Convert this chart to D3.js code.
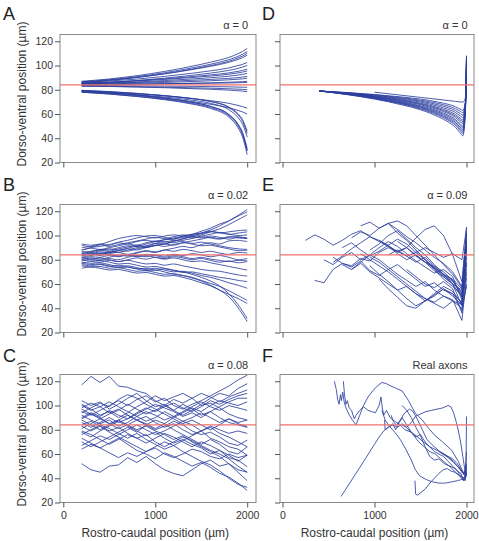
<!DOCTYPE html>
<html><head><meta charset="utf-8">
<script src="https://cdn.jsdelivr.net/npm/d3@7/dist/d3.min.js"></script>
<style>body{margin:0;background:#fff}</style>
</head><body>
<script>
// ---------- data ----------
const xTicks = [0, 1000, 2000];
const yTicks = [20, 40, 60, 80, 100, 120];
const midline = 84;

// Panel A (alpha = 0)
const gridA = [200, 500, 800, 1100, 1400, 1600, 1800, 1900, 1950, 2000];
const seriesA = [
  [87, 88.9, 91.6, 95.1, 99.4, 102.7, 106.7, 109.7, 111.6, 114],
  [86.5, 88.3, 90.8, 94, 98, 101, 104.8, 107.5, 109.3, 111.5],
  [86, 87.7, 90.1, 93.2, 97, 99.9, 103.5, 106.2, 107.8, 110],
  [86.5, 88, 90.2, 93.1, 96.6, 99.3, 102.6, 105, 106.5, 108.5],
  [86, 87.2, 88.8, 91, 93.6, 95.6, 98, 99.9, 101, 102.5],
  [85, 86, 87.6, 89.5, 91.9, 93.7, 96, 97.6, 98.7, 100],
  [85.5, 86.3, 87.5, 89, 90.8, 92.2, 93.9, 95.2, 96, 97],
  [85.5, 86.2, 87.2, 88.5, 90.1, 91.3, 92.8, 93.9, 94.6, 95.5],
  [85, 85.6, 86.4, 87.6, 88.9, 89.9, 91.2, 92.1, 92.7, 93.5],
  [85, 85.4, 86, 86.8, 87.8, 88.5, 89.4, 90, 90.5, 91],
  [84.5, 84.9, 85.4, 86, 86.8, 87.4, 88.2, 88.7, 89, 89.5],
  [84, 84.2, 84.5, 84.9, 85.4, 85.7, 86.2, 86.5, 86.7, 87],
  [84.5, 84.6, 84.8, 85, 85.2, 85.4, 85.6, 85.8, 85.9, 86],
  [83.5, 83.4, 83.2, 83, 82.8, 82.6, 82.4, 82.2, 82.1, 82],
  [83, 82.8, 82.5, 82.1, 81.6, 81.3, 80.8, 80.5, 80.3, 80],
  [83, 82.7, 82.2, 81.7, 80.9, 80.4, 79.7, 79.2, 78.9, 78.5],
  [79.5, 78.5, 77, 75.1, 72.7, 71, 68.8, 67.1, 66.1, 64.8],
  [79, 77.7, 75.8, 73.3, 70.3, 68, 65.1, 63, 61.7, 60],
  [79, 78, 76.7, 75, 72.7, 70.4, 65.8, 60.2, 55.2, 46],
  [79.5, 78.4, 77, 75.2, 72.8, 70.3, 65.3, 59.3, 53.9, 44],
  [78.5, 77.4, 75.9, 74, 71.4, 68.8, 63.5, 57.1, 51.5, 41],
  [78.5, 77.1, 75.2, 72.9, 69.6, 66.3, 59.7, 51.7, 44.7, 31.5],
  [79, 77.5, 75.6, 73.1, 69.7, 66.3, 59.4, 51.1, 43.7, 30],
  [78, 76.5, 74.6, 72.2, 68.8, 65.4, 58.6, 50.4, 43.1, 29.5],
  [78, 76.5, 74.4, 71.8, 68.2, 64.6, 57.4, 48.6, 40.9, 26.5]
];

// Panel B (alpha = 0.02)
const gridB = [200,300,400,500,600,700,800,900,1000,1100,1200,1300,1400,1500,1600,1700,1800,1900,2000];
const seriesB = [
  [84, 85.5, 84.5, 86, 87.5, 87, 89, 90.5, 92, 93, 95.5, 97, 99.5, 102, 104.5, 108, 112, 116.5, 121.5],
  [86, 87, 88.5, 88, 90, 91.5, 91, 93, 95, 96.5, 97, 99.5, 101, 103.5, 106, 109.5, 112, 116, 119.5],
  [82, 83.5, 85, 86.5, 86, 88, 90, 91.5, 93.5, 93, 95, 97.5, 99, 100.5, 103, 105.5, 109, 113, 117],
  [88, 90, 92.5, 95, 97.5, 99, 100, 99, 98, 99.5, 100.5, 99.5, 101, 102, 103.5, 102, 103, 104, 104.5],
  [90, 91, 93, 92, 94.5, 96, 98, 99.5, 100, 98.5, 97, 98.5, 100, 101.5, 103, 102.5, 101, 102, 103],
  [92, 90.5, 91, 92.5, 94, 93, 95, 96, 95, 96.5, 98, 99, 98, 99.5, 101, 102.5, 101, 100, 100.5],
  [85, 86.5, 88, 87, 89, 90.5, 92, 91, 93.5, 95, 94, 96, 97.5, 99, 98, 97, 98.5, 99, 97.5],
  [80, 81.5, 80.5, 82, 84, 83, 85.5, 87, 86, 88, 89.5, 91, 90, 92.5, 94, 93, 95.5, 96, 95],
  [87, 86, 87.5, 89, 88, 89.5, 91, 90, 92, 91, 92.5, 94, 93, 91.5, 92, 90.5, 89, 87.5, 88],
  [83, 84.5, 83.5, 85, 86, 84.5, 86, 87.5, 86.5, 88, 87, 88.5, 87.5, 86, 87, 85.5, 84.5, 86, 85.5],
  [79, 80.5, 79.5, 81, 80, 82, 83.5, 82.5, 84, 83, 84.5, 83.5, 85, 84, 82.5, 83.5, 82, 80, 81],
  [81, 82.5, 82, 83.5, 82.5, 84, 83, 84.5, 83.5, 82, 83.5, 82.5, 81, 82, 80.5, 79.5, 78.5, 79.5, 79],
  [77, 78.5, 78, 79.5, 78.5, 80, 81.5, 80.5, 82, 81, 82.5, 81.5, 80, 81, 79.5, 78, 79, 77.5, 78.5],
  [85, 84, 85.5, 84.5, 83, 84, 82.5, 83.5, 82, 80.5, 81.5, 80, 78.5, 79, 77.5, 76, 74.5, 73, 71.5],
  [82, 80.5, 81.5, 80, 78.5, 79.5, 78, 76.5, 77, 75.5, 76.5, 75, 73.5, 72, 71, 70.5, 69, 67.5, 66.5],
  [78, 77, 77.5, 76, 74.5, 75, 73.5, 72, 73, 71.5, 70, 70.5, 69, 67, 65.5, 63.5, 61, 59, 56.5],
  [75, 74, 74.5, 73, 73.5, 72, 70.5, 71, 69.5, 68, 68.5, 67, 65.5, 63, 60.5, 58, 54.5, 50.5, 46.5],
  [73, 74, 73, 71.5, 72, 70.5, 69, 69.5, 68, 66.5, 67, 65.5, 63.5, 61, 58.5, 55, 51.5, 48, 44],
  [80, 79, 79.5, 78, 76.5, 77, 75.5, 74, 74.5, 73, 71.5, 70, 68, 65.5, 62.5, 58.5, 52, 43, 31.5],
  [77, 76, 76.5, 75, 73.5, 74, 72.5, 71, 71.5, 70, 68, 67, 65, 62.5, 59, 55, 49.5, 40.5, 29],
  [93, 92, 92.5, 91, 92.5, 94, 95.5, 97, 98.5, 97.5, 99, 100.5, 99.5, 98, 99.5, 98.5, 97, 98.5, 98],
  [76, 75, 76, 74.5, 75.5, 74, 72.5, 73, 71.5, 72.5, 71, 69.5, 70, 68.5, 67, 65.5, 64.5, 63, 62],
  [88, 89.5, 88.5, 90, 91.5, 93, 92, 94, 95.5, 94.5, 96, 95, 93.5, 94.5, 93, 91.5, 90, 89, 88.5],
  [84, 85, 86.5, 86, 87.5, 89, 88, 90, 91.5, 93, 92, 94, 95.5, 97, 98.5, 97.5, 99, 98, 97.5]
];

// Panel C (alpha = 0.08)
const gridC = [200,300,400,500,600,700,800,900,1000,1100,1200,1300,1400,1500,1600,1700,1800,1900,2000];
const seriesC = [
  [117, 124, 119, 124, 116, 115, 112, 110, 104, 100, 96, 101, 97, 92, 95, 90, 86, 84, 82],
  [52, 47, 45, 50, 51, 57, 53, 58, 52, 47, 44, 42, 47, 52, 55, 50, 52, 47, 45],
  [104, 100, 103, 97, 101, 106, 110, 104, 99, 101, 96, 92, 96, 101, 106, 110, 108, 114, 118],
  [101, 97, 92, 95, 90, 94, 99, 103, 108, 104, 107, 110, 106, 100, 102, 98, 93, 90, 88],
  [98, 102, 99, 94, 97, 92, 88, 91, 86, 82, 85, 80, 76, 79, 73, 70, 66, 64, 59],
  [95, 92, 96, 100, 104, 100, 105, 108, 103, 106, 100, 97, 101, 104, 108, 112, 116, 121, 125],
  [92, 88, 85, 88, 83, 86, 91, 87, 90, 95, 91, 87, 84, 79, 82, 77, 74, 70, 66],
  [89, 93, 90, 85, 88, 84, 80, 83, 79, 76, 72, 75, 70, 66, 62, 58, 52, 45, 38],
  [86, 82, 86, 90, 86, 89, 94, 98, 95, 99, 102, 98, 95, 99, 104, 101, 105, 108, 110],
  [84, 87, 83, 79, 82, 77, 73, 76, 70, 66, 70, 74, 71, 67, 63, 60, 56, 50, 45],
  [81, 85, 89, 85, 81, 84, 88, 84, 80, 83, 87, 84, 79, 76, 78, 74, 69, 67, 71.5],
  [78, 74, 79, 83, 87, 83, 79, 75, 78, 73, 69, 72, 68, 65, 60, 63, 57, 55, 49.5],
  [76, 80, 84, 81, 77, 73, 77, 72, 68, 64, 67, 62, 58, 54, 51, 46, 40, 35, 32.5],
  [73, 69, 65, 69, 73, 68, 63, 60, 56, 61, 58, 54, 50, 53, 49, 44, 41, 36, 30],
  [70, 66, 70, 74, 78, 82, 78, 84, 88, 85, 90, 94, 98, 95, 100, 104, 102, 100, 103],
  [67, 71, 75, 72, 76, 80, 84, 80, 76, 79, 83, 87, 90, 94, 90, 86, 89, 85, 82.5],
  [64, 68, 65, 61, 57, 61, 58, 62, 66, 70, 67, 71, 75, 79, 83, 80, 77, 79, 77],
  [100, 96, 99, 103, 99, 95, 91, 95, 92, 88, 91, 95, 99, 103, 99, 96, 100, 98, 96],
  [94, 98, 102, 99, 105, 109, 106, 101, 97, 93, 89, 85, 88, 84, 80, 84, 89, 86, 88],
  [88, 84, 80, 84, 88, 92, 88, 85, 81, 85, 80, 76, 72, 68, 72, 68, 62, 60, 66],
  [83, 79, 83, 78, 74, 70, 66, 62, 65, 60, 57, 60, 64, 62, 58, 56, 60, 57, 59],
  [97, 93, 89, 93, 96, 101, 97, 93, 96, 100, 105, 102, 106, 110, 107, 103, 107, 110, 112.8],
  [90, 94, 91, 96, 92, 89, 93, 97, 101, 98, 95, 91, 94, 90, 95, 99, 103, 106, 106],
  [79, 76, 72, 68, 72, 76, 73, 69, 73, 77, 74, 70, 66, 70, 67, 63, 59, 54, 59]
];

// Panel D (alpha = 0)
const gridD = [400, 700, 1000, 1300, 1500, 1700, 1800, 1880, 1930, 1960, 1980, 1992, 2000];
const startD = [400,400,400,400,400,400,400,400,400,400,400,400,400,1000];
const seriesD = [
  [79, 77.7, 76.1, 74, 72.3, 69.7, 68, 66, 64.1, 63, 66.3, 72.9, 85],
  [79, 77.6, 75.8, 73.4, 71.4, 68.6, 66.6, 64.4, 62.3, 61, 65.4, 74.1, 90],
  [79, 77.4, 75.4, 72.8, 70.6, 67.4, 65.2, 62.8, 60.4, 59, 64.4, 75.2, 95],
  [79, 77.2, 75, 72.2, 69.8, 66.2, 63.8, 61.2, 58.5, 57, 63.2, 75.5, 98],
  [79, 77.1, 74.7, 71.6, 68.9, 65.1, 62.4, 59.6, 56.7, 55, 61.8, 75.3, 100],
  [79, 77, 74.4, 71.1, 68.3, 64.2, 61.4, 58.3, 55.3, 53.5, 60.8, 75.3, 102],
  [79, 76.8, 74.1, 70.6, 67.7, 63.3, 60.4, 57.1, 53.9, 52, 59.8, 75.4, 104],
  [79, 76.7, 73.8, 70, 66.8, 62.2, 59, 55.5, 52, 50, 58.3, 74.8, 105],
  [79, 76.6, 73.5, 69.5, 66.2, 61.3, 58, 54.3, 50.6, 48.5, 57.1, 74.4, 106],
  [79, 76.4, 73.2, 69.1, 65.6, 60.4, 56.9, 53.1, 49.2, 47, 56, 74, 107],
  [79, 76.3, 73, 68.6, 64.9, 59.6, 55.9, 51.9, 47.8, 45.5, 54.8, 73.4, 107.5],
  [79, 76.2, 72.7, 68.2, 64.3, 58.7, 54.9, 50.7, 46.5, 44, 53.6, 72.8, 108],
  [79, 76, 72.3, 67.5, 63.5, 57.5, 53.5, 49, 44.6, 42, 51.9, 71.7, 108],
  [78, 75.4, 73.7, 72, 71.1, 70.4, 70, 69.8, 71.5, 76, 84]
];

// Panel E (alpha = 0.09)
const gridE = [250,350,450,550,650,750,850,950,1050,1150,1250,1350,1450,1550,1650,1750,1850,1950,2000];
const startE = [250,350,450,550,550,650,750,750,850,850,950,950,1050,1050,1150,1250,1350,650,950,1450,1150];
const seriesE = [
  [96, 100.5, 97, 92, 96, 101, 104, 99, 95, 91, 87, 90, 83, 78, 74, 68, 64, 56, 72],
  [63, 61, 72, 77, 75, 81, 79, 86, 90, 87, 83, 78, 82, 75, 70, 63, 52, 88],
  [80, 76, 82, 86, 80, 84, 90, 95, 91, 85, 79, 74, 69, 72, 66, 47, 95],
  [78, 83, 89, 94, 99, 96, 92, 86, 90, 84, 78, 73, 66, 60, 42, 100],
  [82, 77, 74, 79, 71, 67, 72, 76, 70, 64, 58, 61, 55, 52, 38, 60],
  [90, 94, 88, 83, 87, 92, 97, 93, 86, 80, 74, 68, 63, 50, 76],
  [72, 77, 70, 65, 60, 55, 58, 52, 48, 45, 50, 47, 30, 65],
  [98, 103, 100, 106, 110, 105, 99, 94, 88, 82, 77, 70, 58, 104],
  [108, 111, 106, 110, 102, 96, 88, 80, 73, 67, 62, 53, 93],
  [85, 80, 75, 70, 64, 58, 52, 46, 50, 56, 52, 45, 82],
  [88, 93, 100, 104, 97, 90, 84, 76, 68, 60, 49, 70],
  [75, 68, 62, 55, 48, 42, 46, 51, 56, 50, 43, 97],
  [96, 91, 85, 80, 84, 78, 71, 66, 60, 55, 85],
  [64, 56, 49, 42, 40, 46, 52, 58, 54, 44, 107],
  [110, 112, 108, 100, 92, 84, 76, 68, 57, 90],
  [95, 90, 98, 105, 108, 100, 84, 62, 102],
  [72, 66, 60, 57, 62, 56, 36, 78],
  [76, 72, 78, 84, 80, 74, 68, 63, 58, 62, 55, 50, 46, 40, 58],
  [82, 78, 72, 66, 60, 54, 48, 44, 40, 46, 43, 68],
  [88, 80, 72, 64, 58, 51, 92],
  [84, 88, 83, 86, 90, 86, 82, 85, 80, 106]
];

// Panel F (real axons), [rostro-caudal, dorso-ventral] in µm
const seriesF = [
  [[564,120],[585,113],[600,105],[615,101],[630,109],[640,104],[655,111],[670,103],[690,98],[720,93],[760,88],[800,84],[840,92],[880,100],[930,107],[980,112],[1030,116],[1080,119],[1130,118],[1180,116],[1240,114],[1300,112],[1370,104],[1440,94],[1520,88],[1590,81],[1660,75],[1740,70],[1840,63],[1910,54],[1950,47],[1975,44],[1990,50],[2000,62]],
  [[662,120],[675,108],[690,101],[705,104],[725,98],[750,96],[780,89],[800,92],[840,96],[880,99],[930,96],[970,95],[1010,94],[1050,100],[1070,107],[1085,98],[1100,92],[1130,96],[1170,90],[1220,87],[1280,84],[1330,80],[1400,78],[1470,74],[1530,70],[1600,66],[1680,63],[1760,60],[1830,56],[1880,52],[1930,47],[1960,44],[1985,42],[1995,50],[2000,91]],
  [[636,25],[680,30],[730,36],[790,43],[850,50],[900,56],[950,62],[1000,68],[1050,74],[1100,79],[1150,82],[1200,84],[1250,82],[1300,85],[1360,81],[1420,76],[1480,70],[1540,66],[1600,62],[1660,60],[1720,56],[1780,52],[1830,49],[1880,45],[1930,42],[1960,40],[1985,38],[2000,45]],
  [[1300,84],[1350,82],[1400,86],[1444,91],[1500,93],[1560,95],[1620,96],[1680,97],[1740,98],[1800,100],[1830,99],[1860,94],[1890,86],[1915,78],[1940,68],[1960,58],[1980,48],[2000,42]],
  [[1440,38],[1447,27],[1470,26],[1500,28],[1550,31],[1603,36],[1650,40],[1700,44],[1748,47],[1790,48],[1830,46],[1870,45],[1910,43],[1945,40],[1970,38],[1990,41],[2000,48]],
  [[1080,96],[1116,88],[1160,83],[1220,78],[1280,72],[1340,64],[1400,55],[1444,47],[1490,42],[1560,39],[1630,37],[1700,36],[1770,36],[1840,37],[1900,38],[1950,39],[1985,40],[2000,44]],
  [[1110,88],[1115,80],[1150,82],[1200,85],[1230,80],[1270,86],[1300,90],[1350,84],[1400,78],[1450,74],[1500,76],[1550,70],[1600,66],[1650,62],[1700,60],[1750,58],[1800,54],[1850,50],[1900,46],[1940,44],[1970,38],[2000,46]],
  [[1180,92],[1210,86],[1240,84],[1280,88],[1330,94],[1380,97],[1420,95],[1470,88],[1520,80],[1570,72],[1620,68],[1680,64],[1740,60],[1800,57],[1860,53],[1900,50],[1940,47],[1970,44],[2000,48]],
  [[1300,100],[1350,96],[1400,90],[1450,82],[1500,75],[1550,66],[1600,58],[1650,55],[1700,56],[1760,52],[1820,50],[1880,48],[1930,43],[1960,40],[1985,42],[2000,52]],
  [[1700,62],[1750,60],[1800,58],[1850,56],[1900,52],[1950,46],[1975,43],[2000,50]]
];

// ---------- build ----------
const fromGrid = (grid, rows, starts) => rows.map((vals, k) => {
  const s = starts ? grid.indexOf(starts[k]) : 0;
  return vals.map((v, i) => [grid[s + i], v]);
});

const panels = [
  {letter: 'A', title: 'α = 0',    col: 0, row: 0, lines: fromGrid(gridA, seriesA), curve: d3.curveMonotoneX},
  {letter: 'B', title: 'α = 0.02', col: 0, row: 1, lines: fromGrid(gridB, seriesB), curve: d3.curveCatmullRom},
  {letter: 'C', title: 'α = 0.08', col: 0, row: 2, lines: fromGrid(gridC, seriesC), curve: d3.curveLinear},
  {letter: 'D', title: 'α = 0',    col: 1, row: 0, lines: fromGrid(gridD, seriesD, startD), curve: d3.curveMonotoneX},
  {letter: 'E', title: 'α = 0.09', col: 1, row: 1, lines: fromGrid(gridE, seriesE, startE), curve: d3.curveLinear},
  {letter: 'F', title: 'Real axons', col: 1, row: 2, lines: seriesF, curve: d3.curveLinear}
];

const FONT = "'Liberation Sans', Arial, sans-serif";
const TXT = '#333';
const BLUE = '#2c3f9e';
const RED = '#f2716b';

const cols = [{x0: 60, x1: 256, r0: 63.3, r1: 247.2}, {x0: 280, x1: 474, r0: 282.5, r1: 466.5}];
const rowOff = [0, 170, 340];
const letterBase = [20, 191, 362];

const svg = d3.select('body').append('svg').attr('width', 479).attr('height', 541)
  .style('font-family', FONT);

panels.forEach((p, pi) => {
  const c = cols[p.col], off = rowOff[p.row];
  const top = 34.5 + off, bot = 162.5 + off;
  const x = d3.scaleLinear().domain([0, 2000]).range([c.r0, c.r1]);
  const y = d3.scaleLinear().domain([20, 120]).range([bot, bot - 121.25]);
  const g = svg.append('g');

  const cid = 'clip' + pi;
  svg.append('clipPath').attr('id', cid).append('rect')
    .attr('x', c.x0).attr('y', top).attr('width', c.x1 - c.x0).attr('height', bot - top);

  const line = d3.line().x(d => x(d[0])).y(d => y(d[1])).curve(p.curve);
  g.append('g').attr('clip-path', `url(#${cid})`).selectAll('path').data(p.lines).join('path')
    .attr('d', line).attr('fill', 'none').attr('stroke', BLUE).attr('stroke-width', 0.85)
    .attr('stroke-linejoin', 'round');

  g.append('line').attr('x1', c.x0).attr('x2', c.x1).attr('y1', y(midline)).attr('y2', y(midline))
    .attr('stroke', RED).attr('stroke-width', 1.2);

  g.append('rect').attr('x', c.x0).attr('y', top).attr('width', c.x1 - c.x0).attr('height', bot - top)
    .attr('fill', 'none').attr('stroke', '#8a8a8a').attr('stroke-width', 1);

  const ya = d3.axisLeft(y).tickValues(yTicks).tickSize(5).tickPadding(2)
    .tickFormat(p.col === 0 ? d3.format('d') : () => '');
  const yg = g.append('g').attr('transform', `translate(${c.x0},0)`).call(ya);
  yg.select('.domain').remove();
  yg.selectAll('line').attr('stroke', '#555');
  yg.selectAll('text').attr('fill', TXT).style('font-size', '10.5px').style('font-family', FONT);

  const xa = d3.axisBottom(x).tickValues(xTicks).tickSize(5).tickPadding(4)
    .tickFormat(p.row === 2 ? d3.format('d') : () => '');
  const xg = g.append('g').attr('transform', `translate(0,${bot})`).call(xa);
  xg.select('.domain').remove();
  xg.selectAll('line').attr('stroke', '#555');
  xg.selectAll('text').attr('fill', TXT).style('font-size', '10.5px').style('font-family', FONT);

  g.append('text').attr('x', c.r1 + 1).attr('y', top - 6).attr('text-anchor', 'end')
    .attr('fill', TXT).style('font-size', '11px').text(p.title);

  g.append('text').attr('x', p.col === 0 ? 3 : 262).attr('y', letterBase[p.row])
    .attr('fill', '#222').style('font-size', '18px').text(p.letter);

  if (p.col === 0) {
    g.append('text').attr('transform', `translate(26,${94 + off}) rotate(-90)`)
      .attr('text-anchor', 'middle').attr('fill', TXT).style('font-size', '12px')
      .text('Dorso-ventral position (µm)');
  }
  if (p.row === 2) {
    g.append('text').attr('x', x(1000)).attr('y', 537).attr('text-anchor', 'middle')
      .attr('fill', TXT).style('font-size', '12px').text('Rostro-caudal position (µm)');
  }
});
</script>
</body></html>
